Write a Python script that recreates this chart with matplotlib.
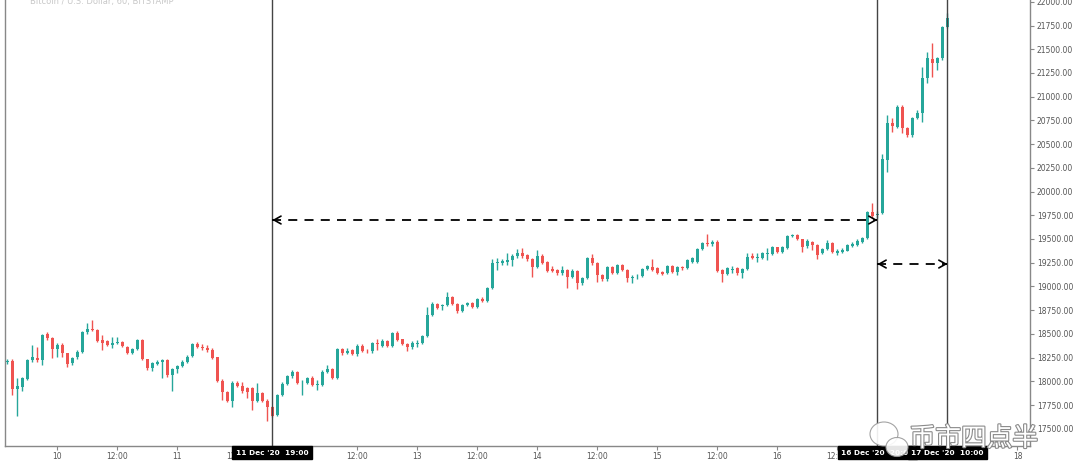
import matplotlib
matplotlib.use("Agg")
import matplotlib.pyplot as plt
import matplotlib.patheffects as pe
import matplotlib.transforms as mtransforms
from matplotlib.patches import Ellipse
import numpy as np
import pandas as pd

# hourly BTCUSD candles, 9 Dec 2020 14:00 -> 17 Dec 2020 10:00
start = "2020-12-09 14:00"

opens = [18200, 18214, 17915, 17944, 18024, 18225, 18242, 18225, 18495, 18460,
         18337, 18383, 18295, 18190, 18253, 18312, 18516, 18551, 18540, 18435,
         18428, 18383, 18400, 18418, 18365, 18302, 18337, 18435, 18232, 18137,
         18182, 18207, 18225, 18067, 18130, 18165, 18200, 18267, 18393, 18365,
         18348, 18330, 18253, 18007, 17891, 17796, 17986, 17950, 17926, 17926,
         17796, 17880, 17796, 17733, 17645, 17856, 17972, 18056, 18102, 17979,
         17986, 18039, 17962, 17962, 18102, 18126, 18032, 18341, 18302, 18330,
         18288, 18376, 18323, 18316, 18400, 18376, 18425, 18376, 18506, 18443,
         18393, 18365, 18390, 18400, 18478, 18699, 18815, 18790, 18800, 18885,
         18815, 18745, 18805, 18822, 18787, 18864, 18850, 18980, 19244, 19244,
         19261, 19279, 19321, 19356, 19330, 19286, 19209, 19321, 19261, 19180,
         19173, 19138, 19173, 19103, 19166, 19033, 19085, 19296, 19251, 19121,
         19075, 19202, 19145, 19226, 19173, 19085, 19096, 19110, 19180, 19208,
         19190, 19155, 19138, 19215, 19155, 19208, 19190, 19260, 19261, 19391,
         19461, 19447, 19472, 19173, 19131, 19173, 19190, 19138, 19180, 19321,
         19296, 19296, 19340, 19342, 19412, 19366, 19401, 19531, 19542, 19496,
         19426, 19464, 19436, 19356, 19391, 19461, 19356, 19366, 19377, 19426,
         19436, 19472, 19507, 19780, 19753, 19770, 20333, 20719, 20684, 20895,
         20667, 20596, 20772, 20824, 21193, 21394, 21351, 21404, 21738]
highs = [18240, 18230, 18040, 18050, 18240, 18383, 18365, 18500, 18523, 18470,
         18400, 18400, 18300, 18260, 18330, 18530, 18611, 18646, 18550, 18488,
         18440, 18470, 18470, 18430, 18370, 18350, 18450, 18450, 18240, 18200,
         18220, 18235, 18235, 18140, 18175, 18220, 18280, 18400, 18410, 18390,
         18380, 18350, 18260, 18020, 17900, 18000, 18000, 17990, 17935, 17935,
         17986, 17890, 17810, 17740, 17870, 17990, 18070, 18120, 18110, 18010,
         18050, 18060, 18015, 18115, 18172, 18140, 18355, 18355, 18355, 18345,
         18390, 18390, 18340, 18415, 18450, 18450, 18440, 18520, 18530, 18450,
         18400, 18420, 18440, 18490, 18780, 18840, 18830, 18820, 18945, 18900,
         18830, 18815, 18840, 18835, 18880, 18890, 18995, 19290, 19296, 19290,
         19350, 19340, 19391, 19400, 19340, 19300, 19384, 19340, 19270, 19210,
         19185, 19210, 19180, 19180, 19175, 19100, 19310, 19340, 19260, 19130,
         19215, 19215, 19240, 19240, 19180, 19120, 19130, 19195, 19230, 19285,
         19200, 19165, 19230, 19230, 19210, 19220, 19290, 19310, 19400, 19470,
         19552, 19485, 19485, 19180, 19200, 19210, 19200, 19190, 19350, 19350,
         19350, 19360, 19400, 19425, 19420, 19430, 19545, 19555, 19555, 19505,
         19495, 19475, 19450, 19400, 19490, 19470, 19390, 19400, 19450, 19470,
         19495, 19520, 19800, 19880, 19790, 20400, 20807, 20772, 20910, 20910,
         20680, 20785, 20860, 21316, 21475, 21562, 21420, 21740, 21880]
lows = [18180, 17856, 17634, 17900, 18010, 18200, 18207, 18172, 18436, 18242,
        18260, 18260, 18154, 18170, 18240, 18300, 18500, 18530, 18418, 18330,
        18370, 18350, 18390, 18360, 18290, 18290, 18330, 18220, 18120, 18112,
        18170, 18030, 18050, 17900, 18085, 18150, 18190, 18260, 18350, 18335,
        18310, 18230, 17990, 17803, 17780, 17726, 17940, 17880, 17820, 17698,
        17780, 17780, 17585, 17620, 17630, 17840, 17960, 18040, 17970, 17856,
        17970, 17950, 17909, 17950, 18090, 18020, 18020, 18280, 18290, 18275,
        18265, 18310, 18300, 18300, 18330, 18360, 18360, 18360, 18425, 18380,
        18323, 18345, 18365, 18390, 18470, 18690, 18760, 18750, 18790, 18800,
        18720, 18735, 18790, 18775, 18770, 18835, 18840, 18970, 19175, 19230,
        19226, 19210, 19300, 19300, 19270, 19103, 19195, 19240, 19150, 19150,
        19120, 19125, 18980, 19090, 18970, 19020, 19075, 19230, 19050, 19060,
        19060, 19130, 19135, 19160, 19050, 19033, 19080, 19100, 19170, 19160,
        19130, 19120, 19130, 19145, 19120, 19175, 19180, 19250, 19250, 19380,
        19430, 19430, 19150, 19050, 19120, 19145, 19120, 19085, 19170, 19285,
        19260, 19290, 19280, 19330, 19350, 19355, 19390, 19520, 19485, 19366,
        19410, 19380, 19285, 19340, 19380, 19355, 19330, 19355, 19370, 19415,
        19425, 19460, 19500, 19720, 19720, 19760, 20210, 20630, 20670, 20614,
        20580, 20580, 20760, 20737, 21140, 21210, 21280, 21390, 21720]
closes = [18210, 17915, 17950, 18031, 18225, 18253, 18225, 18488, 18453, 18337,
          18383, 18295, 18182, 18242, 18312, 18516, 18551, 18540, 18428, 18400,
          18383, 18407, 18418, 18372, 18302, 18337, 18435, 18232, 18137, 18190,
          18207, 18225, 18067, 18130, 18165, 18207, 18260, 18393, 18365, 18348,
          18330, 18242, 18007, 17891, 17796, 17986, 17950, 17901, 17891, 17796,
          17880, 17796, 17726, 17634, 17856, 17972, 18056, 18102, 17979, 17986,
          18039, 17962, 17968, 18102, 18126, 18032, 18341, 18295, 18320, 18288,
          18376, 18323, 18316, 18400, 18390, 18425, 18376, 18506, 18436, 18393,
          18365, 18400, 18400, 18478, 18699, 18812, 18770, 18800, 18885, 18815,
          18745, 18805, 18822, 18787, 18864, 18850, 18980, 19244, 19261, 19268,
          19279, 19321, 19356, 19321, 19286, 19200, 19321, 19251, 19166, 19166,
          19138, 19173, 19103, 19166, 19033, 19085, 19296, 19244, 19121, 19075,
          19202, 19145, 19226, 19173, 19085, 19096, 19103, 19180, 19215, 19173,
          19145, 19131, 19215, 19155, 19201, 19190, 19278, 19296, 19391, 19454,
          19447, 19472, 19166, 19131, 19190, 19180, 19138, 19180, 19313, 19296,
          19310, 19349, 19349, 19412, 19366, 19419, 19531, 19542, 19496, 19419,
          19482, 19436, 19331, 19391, 19461, 19366, 19377, 19384, 19436, 19443,
          19482, 19507, 19788, 19745, 19765, 20340, 20719, 20690, 20895, 20667,
          20596, 20772, 20824, 21200, 21404, 21351, 21404, 21731, 21826]

# measured ranges (start time, end time, price level of the dashed arrow)
range_starts = ["2020-12-11 19:00", "2020-12-16 20:00"]
range_ends = ["2020-12-16 20:00", "2020-12-17 10:00"]
range_prices = [19700, 19236]

price_ticks = np.arange(17500, 22001, 250)

times = pd.date_range(start, periods=len(opens), freq="h")
idx = np.arange(len(opens))
o = np.array(opens, float)
h = np.array(highs, float)
l = np.array(lows, float)
c = np.array(closes, float)

up_col = "#26a69a"
dn_col = "#ef5350"
cols = np.where(c >= o, up_col, dn_col)

xmin, xmax = -0.46, 204.5

def pos(t):
    return (pd.Timestamp(t) - times[0]) / pd.Timedelta(hours=1)

fig = plt.figure(figsize=(10.8, 4.61), dpi=100)
ax = fig.add_axes([5/1080, 15/461, 1025/1080, 446/461])

ax.vlines(idx, l, h, colors=cols, lw=1, zorder=2)
body = np.maximum(np.abs(c - o), 6)
ax.bar(idx, body, bottom=np.minimum(o, c), width=0.62, color=cols, lw=0, zorder=3)

# time axis: day number at midnight, 12:00 at noon
marks = sorted(set(range_starts + range_ends))
mark_pos = [pos(t) for t in marks]
tick_pos, tick_lab = [], []
for t in pd.date_range("2020-12-09", "2020-12-19", freq="12h"):
    x = pos(t)
    if x < xmin or x > xmax:
        continue
    # labels whose centre sits under a crosshair time box are hidden
    if any(abs(x - m) < 7 for m in mark_pos):
        continue
    tick_pos.append(x)
    tick_lab.append(str(t.day) if t.hour == 0 else "12:00")
ax.set_xticks(tick_pos)
ax.set_xticklabels(tick_lab)
ax.tick_params(axis="x", length=3, width=0.8, color="#888", labelsize=5.5, labelcolor="#555", pad=1.5)

ax.yaxis.tick_right()
ax.set_yticks(price_ticks)
ax.set_yticklabels(["%.2f" % p for p in price_ticks])
ax.tick_params(axis="y", length=3, width=0.8, color="#888", labelsize=5.5, labelcolor="#555", pad=2)

ax.set_xlim(xmin, xmax)
ax.set_ylim(17318, 22019)

for s in ["left", "bottom", "right"]:
    ax.spines[s].set_color("#888")
    ax.spines[s].set_linewidth(1)
ax.spines["top"].set_visible(False)

trans = mtransforms.blended_transform_factory(ax.transData, ax.transAxes)

# crosshair lines and time labels
for t in marks:
    x = pos(t)
    ax.axvline(x, color="#444", lw=1, zorder=4)
    tt = pd.Timestamp(t)
    ax.text(x, -0.008, tt.strftime("%d %b '%y") + "  " + tt.strftime("%H:%M"),
            transform=trans, ha="center", va="top", fontsize=5.3, color="white",
            fontweight="bold", clip_on=False, zorder=10,
            bbox=dict(boxstyle="square,pad=0.5", fc="black", ec="black"))

# dashed range arrows
for t0, t1, p in zip(range_starts, range_ends, range_prices):
    x0, x1 = pos(t0), pos(t1)
    ax.plot([x0, x1], [p, p], color="black", lw=1.3, dashes=(5, 4), zorder=5)
    for a, b in [(x0, x0 + 0.4), (x1, x1 - 0.4)]:
        ax.annotate("", xy=(a, p), xytext=(b, p),
                    arrowprops=dict(arrowstyle="->,head_length=0.5,head_width=0.28",
                                    color="black", lw=1.2, shrinkA=0, shrinkB=0),
                    zorder=6)

# faint legend line at top left (cut off in the screenshot)
fig.text(30/1080, 0.997, "Bitcoin / U.S. Dollar, 60, BITSTAMP", fontsize=6,
         color="#c8c8c8", va="center", ha="left")

# watermark
for cx, cy, w, hh in [(884, 434, 28, 24), (897, 447, 22, 19)]:
    e = Ellipse((cx/1080, 1 - cy/461), w/1080, hh/461, transform=fig.transFigure,
                fc="white", ec="#9a9a9a", lw=0.8, alpha=0.9, zorder=19)
    fig.patches.append(e)
wm = fig.text(974/1080, 9/461, "币市四点半", fontsize=18.5, color="white",
              family=["Noto Sans CJK SC", "DejaVu Sans"], ha="center", va="bottom",
              zorder=20)
wm.set_path_effects([pe.withStroke(linewidth=1.6, foreground="#8a8a8a")])

fig.savefig("out.png", dpi=100)
